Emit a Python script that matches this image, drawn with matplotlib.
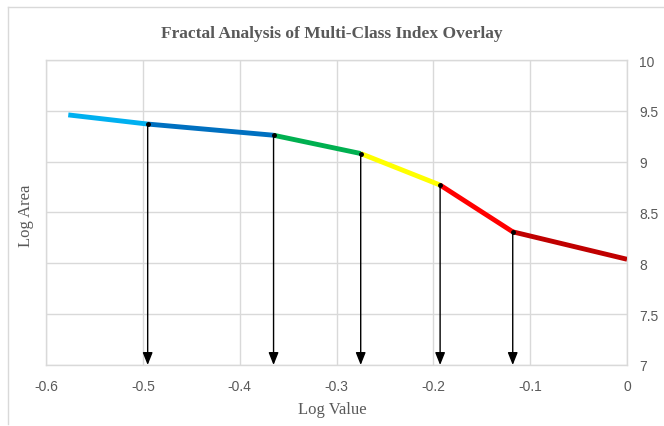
import matplotlib
matplotlib.use("Agg")
import matplotlib.pyplot as plt
from matplotlib.lines import Line2D

# Data
x_pts = [-0.577, -0.495, -0.365, -0.275, -0.193, -0.118, 0.0]
y_pts = [9.46, 9.37, 9.26, 9.08, 8.77, 8.31, 8.04]
seg_colors = ["#00B0F0", "#0070C0", "#00B050", "#FFFF00", "#FF0000", "#C00000"]
arrow_x = [-0.495, -0.365, -0.275, -0.193, -0.118]
arrow_y = [9.37, 9.26, 9.08, 8.77, 8.31]
x_ticks = [-0.6, -0.5, -0.4, -0.3, -0.2, -0.1, 0]
x_ticklabels = ["-0.6", "-0.5", "-0.4", "-0.3", "-0.2", "-0.1", "0"]
y_ticks = [7, 7.5, 8, 8.5, 9, 9.5, 10]
y_ticklabels = ["7", "7.5", "8", "8.5", "9", "9.5", "10"]

fig = plt.figure(figsize=(6.64, 4.27), dpi=100)
ax = fig.add_axes([46/664, 1-366/427, (627-46)/664, (366-61)/427])

for i, c in enumerate(seg_colors):
    ax.plot(x_pts[i:i+2], y_pts[i:i+2], color=c, lw=3.5, solid_capstyle="butt", zorder=3)

for xa, ya in zip(arrow_x, arrow_y):
    ax.annotate("", xy=(xa, 7.0), xytext=(xa, ya),
                arrowprops=dict(arrowstyle="-|>,head_length=0.75,head_width=0.3",
                                color="black", lw=1.0, shrinkA=0, shrinkB=0),
                zorder=4)
    ax.plot([xa], [ya], marker="o", ms=2.5, color="black", zorder=4)

ax.set_xlim(-0.6, 0)
ax.set_ylim(7, 10)
ax.set_xticks(x_ticks)
ax.set_xticklabels(x_ticklabels)
ax.set_yticks(y_ticks)
ax.set_yticklabels(y_ticklabels)
ax.yaxis.tick_right()
ax.grid(True, color="#D9D9D9", lw=1.0, zorder=0)
ax.set_axisbelow(True)
for s in ax.spines.values():
    s.set_color("#D9D9D9")
    s.set_linewidth(1.0)
ax.tick_params(length=0, labelsize=10, colors="#595959", pad=10)
ax.tick_params(axis="y", pad=9)
for lab in ax.get_xticklabels() + ax.get_yticklabels():
    lab.set_family("Liberation Sans")

fig.text(0.5, 1-34/427, "Fractal Analysis of Multi-Class Index Overlay", ha="center", va="center",
         family="Liberation Serif", fontweight="bold", fontsize=12.5, color="#595959")
fig.text(0.5, 1-410/427, "Log Value", ha="center", va="center",
         family="Liberation Serif", fontsize=12, color="#595959")
fig.text(26/664, 1-216/427, "Log Area", ha="center", va="center", rotation=90,
         family="Liberation Serif", fontsize=12, color="#595959")

# chart border
fig.add_artist(Line2D([8/664, 8/664], [1-8/427, 1-425/427], transform=fig.transFigure, color="#D9D9D9", lw=1))
fig.add_artist(Line2D([8/664, 1.0], [1-8/427, 1-8/427], transform=fig.transFigure, color="#D9D9D9", lw=1))

fig.savefig("out.png", dpi=100)
